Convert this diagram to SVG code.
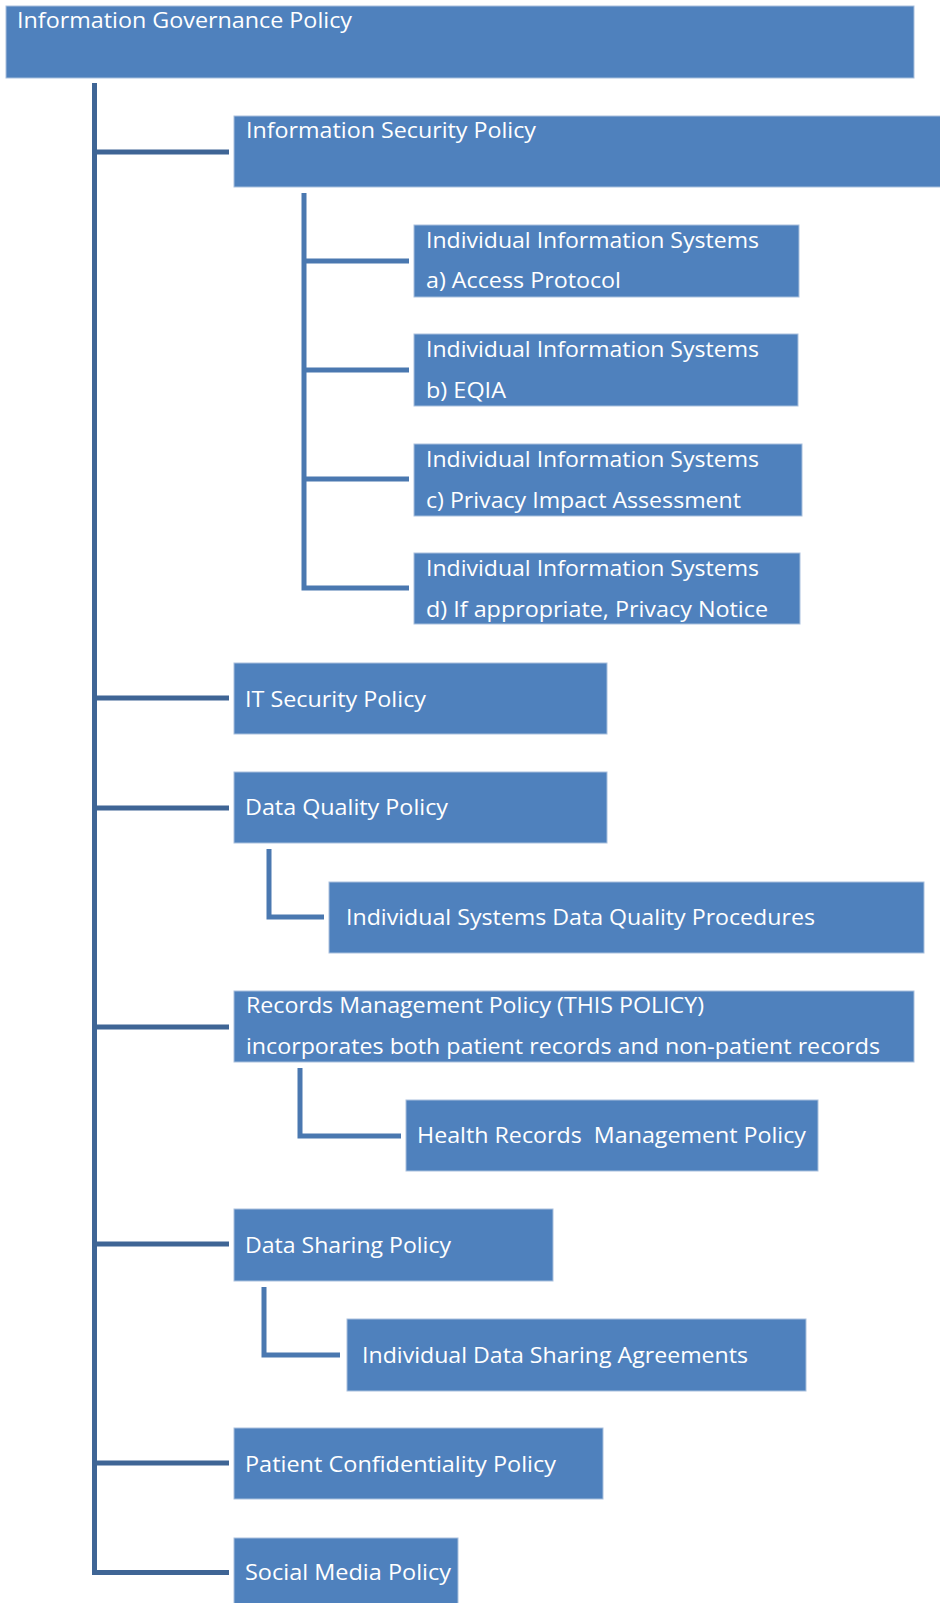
<svg xmlns="http://www.w3.org/2000/svg" width="940" height="1603" viewBox="0 0 940 1603">
<style>
.box{fill:#4f81bd;stroke:#a9c0dd;stroke-width:1}
.t{font-family:"Open Sans","Noto Sans","Liberation Sans",sans-serif;font-size:22px;fill:#ffffff;white-space:pre}
.main{stroke:#3f6595;stroke-width:5;fill:none;stroke-linecap:butt}
.sub{stroke:#4a78b0;stroke-width:5;fill:none;stroke-linejoin:miter}
</style>
<rect width="940" height="1603" fill="#ffffff"/>
<g id="connectors">
<line class="main" x1="94.5" y1="83" x2="94.5" y2="1575"/>
<line class="main" x1="94" y1="152" x2="229" y2="152"/>
<line class="main" x1="94" y1="698" x2="229" y2="698"/>
<line class="main" x1="94" y1="808" x2="229" y2="808"/>
<line class="main" x1="94" y1="1027" x2="229" y2="1027"/>
<line class="main" x1="94" y1="1244" x2="229" y2="1244"/>
<line class="main" x1="94" y1="1463" x2="229" y2="1463"/>
<path class="main" d="M94.5 1572.5 H229"/>
<path class="sub" d="M304 193 V588 H409"/>
<line class="sub" x1="304" y1="261" x2="409" y2="261"/>
<line class="sub" x1="304" y1="370" x2="409" y2="370"/>
<line class="sub" x1="304" y1="479" x2="409" y2="479"/>
<path class="sub" d="M269 849 V917 H324"/>
<path class="sub" d="M300 1068 V1136 H401"/>
<path class="sub" d="M264 1287 V1355 H340"/>
</g>
<g id="n0"><rect class="box" x="6" y="6" width="908" height="72"/><text class="t" x="17" y="28" textLength="335" lengthAdjust="spacingAndGlyphs">Information Governance Policy</text></g>
<g id="n1"><rect class="box" x="234" y="116" width="707" height="71"/><text class="t" x="246" y="138" textLength="290" lengthAdjust="spacingAndGlyphs">Information Security Policy</text></g>
<g id="n1a"><rect class="box" x="414" y="225" width="385" height="72"/><text class="t" x="426" y="248" textLength="333" lengthAdjust="spacingAndGlyphs">Individual Information Systems</text><text class="t" x="426" y="288" textLength="195" lengthAdjust="spacingAndGlyphs">a) Access Protocol</text></g>
<g id="n1b"><rect class="box" x="414" y="334" width="384" height="72"/><text class="t" x="426" y="357" textLength="333" lengthAdjust="spacingAndGlyphs">Individual Information Systems</text><text class="t" x="426" y="398" textLength="80" lengthAdjust="spacingAndGlyphs">b) EQIA</text></g>
<g id="n1c"><rect class="box" x="414" y="444" width="388" height="72"/><text class="t" x="426" y="467" textLength="333" lengthAdjust="spacingAndGlyphs">Individual Information Systems</text><text class="t" x="426" y="508" textLength="315" lengthAdjust="spacingAndGlyphs">c) Privacy Impact Assessment</text></g>
<g id="n1d"><rect class="box" x="414" y="553" width="386" height="71"/><text class="t" x="426" y="576" textLength="333" lengthAdjust="spacingAndGlyphs">Individual Information Systems</text><text class="t" x="426" y="617" textLength="342" lengthAdjust="spacingAndGlyphs">d) If appropriate, Privacy Notice</text></g>
<g id="n2"><rect class="box" x="234" y="663" width="373" height="71"/><text class="t" x="245" y="707" textLength="181" lengthAdjust="spacingAndGlyphs">IT Security Policy</text></g>
<g id="n3"><rect class="box" x="234" y="772" width="373" height="71"/><text class="t" x="245" y="815" textLength="203" lengthAdjust="spacingAndGlyphs">Data Quality Policy</text></g>
<g id="n3a"><rect class="box" x="329" y="882" width="595" height="71"/><text class="t" x="346" y="925" textLength="469" lengthAdjust="spacingAndGlyphs">Individual Systems Data Quality Procedures</text></g>
<g id="n4"><rect class="box" x="234" y="991" width="680" height="71"/><text class="t" x="246" y="1013" textLength="458" lengthAdjust="spacingAndGlyphs">Records Management Policy (THIS POLICY)</text><text class="t" x="246" y="1054" textLength="634" lengthAdjust="spacingAndGlyphs">incorporates both patient records and non-patient records</text></g>
<g id="n4a"><rect class="box" x="406" y="1100" width="412" height="71"/><text class="t" x="417" y="1143" textLength="389" lengthAdjust="spacingAndGlyphs">Health Records  Management Policy</text></g>
<g id="n5"><rect class="box" x="234" y="1209" width="319" height="72"/><text class="t" x="245" y="1253" textLength="206" lengthAdjust="spacingAndGlyphs">Data Sharing Policy</text></g>
<g id="n5a"><rect class="box" x="347" y="1319" width="459" height="72"/><text class="t" x="362" y="1363" textLength="386" lengthAdjust="spacingAndGlyphs">Individual Data Sharing Agreements</text></g>
<g id="n6"><rect class="box" x="234" y="1428" width="369" height="71"/><text class="t" x="245" y="1472" textLength="311" lengthAdjust="spacingAndGlyphs">Patient Confidentiality Policy</text></g>
<g id="n7"><rect class="box" x="234" y="1538" width="224" height="70"/><text class="t" x="245" y="1580" textLength="206" lengthAdjust="spacingAndGlyphs">Social Media Policy</text></g>
</svg>
